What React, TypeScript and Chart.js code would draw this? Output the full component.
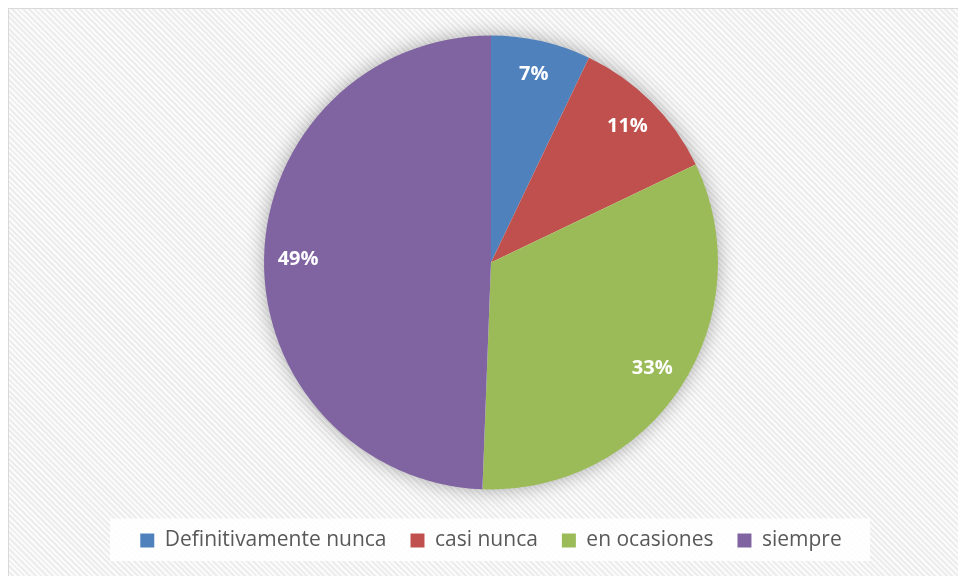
import React, { useEffect, useRef } from "react";
import { Chart, registerables } from "chart.js";

Chart.register(...registerables);

const categories = ["Definitivamente nunca", "casi nunca", "en ocasiones", "siempre"];
const values = [7.1, 10.8, 32.7, 49.4];
const colors = ["#4F81BD", "#C0504D", "#9BBB59", "#8064A2"];

const FONT = "'Open Sans', 'Noto Sans', sans-serif";

const shadowPlugin = {
  id: "pieShadow",
  beforeDatasetsDraw(chart: any) {
    const meta = chart.getDatasetMeta(0);
    const arc = meta.data[0];
    if (!arc) return;
    const { x, y, outerRadius } = arc.getProps(["x", "y", "outerRadius"], true);
    const ctx = chart.ctx;
    ctx.save();
    ctx.shadowColor = "rgba(0,0,0,0.35)";
    ctx.shadowBlur = 20;
    ctx.shadowOffsetX = 0;
    ctx.shadowOffsetY = 0;
    ctx.fillStyle = "#ffffff";
    ctx.beginPath();
    ctx.arc(x, y, outerRadius - 1, 0, Math.PI * 2);
    ctx.fill();
    ctx.restore();
  },
};

const legendBgPlugin = {
  id: "legendBg",
  beforeDraw(chart: any) {
    const lg = chart.legend;
    if (!lg) return;
    const ctx = chart.ctx;
    const cx = (lg.left + lg.right) / 2;
    const w = 760;
    const textY = lg.top + 24 + 10.5;
    ctx.save();
    ctx.fillStyle = "rgba(255,255,255,0.85)";
    ctx.fillRect(cx - w / 2 - 1, textY - 22, w, 44);
    ctx.restore();
  },
};

const labelPlugin = {
  id: "sliceLabels",
  afterDatasetsDraw(chart: any) {
    const meta = chart.getDatasetMeta(0);
    const data = chart.data.datasets[0].data as number[];
    const total = data.reduce((a, b) => a + b, 0);
    const ctx = chart.ctx;
    ctx.save();
    ctx.fillStyle = "#ffffff";
    ctx.font = `bold 20px ${FONT}`;
    ctx.textAlign = "center";
    ctx.textBaseline = "middle";
    meta.data.forEach((arc: any, i: number) => {
      const { x, y, startAngle, endAngle, outerRadius } = arc.getProps(
        ["x", "y", "startAngle", "endAngle", "outerRadius"],
        true
      );
      const mid = (startAngle + endAngle) / 2;
      const r = outerRadius * 0.85;
      const pct = Math.round((data[i] / total) * 100);
      ctx.fillText(pct + "%", x + Math.cos(mid) * r, y + Math.sin(mid) * r);
    });
    ctx.restore();
  },
};

export default function App() {
  const ref = useRef<HTMLCanvasElement | null>(null);

  useEffect(() => {
    if (!ref.current) return;
    const chart = new Chart(ref.current, {
      type: "pie",
      data: {
        labels: categories,
        datasets: [
          {
            data: values,
            backgroundColor: colors,
            borderColor: colors,
            borderWidth: 0,
          },
        ],
      },
      options: {
        animation: false,
        responsive: false,
        maintainAspectRatio: false,
        radius: 227,
        layout: { padding: { top: 10, left: 7, right: 0, bottom: 0 } },
        plugins: {
          tooltip: { enabled: false },
          legend: {
            position: "bottom",
            labels: {
              boxWidth: 14,
              boxHeight: 14,
              padding: 24,
              color: "#595959",
              font: { family: FONT, size: 21 },
            },
          },
        },
      } as any,
      plugins: [shadowPlugin, legendBgPlugin, labelPlugin],
    });
    return () => chart.destroy();
  }, []);

  return (
    <div
      style={{
        position: "relative",
        width: 958,
        height: 568,
        overflow: "hidden",
        boxSizing: "border-box",
        borderTop: "1px solid #d9d9d9",
        borderLeft: "1px solid #d9d9d9",
        background:
          "repeating-linear-gradient(45deg, #fbfbfb 0px, #fbfbfb 2px, #ededed 2px, #ededed 4px)",
      }}
    >
      <canvas ref={ref} width={957} height={552} style={{ display: "block" }} />
    </div>
  );
}
